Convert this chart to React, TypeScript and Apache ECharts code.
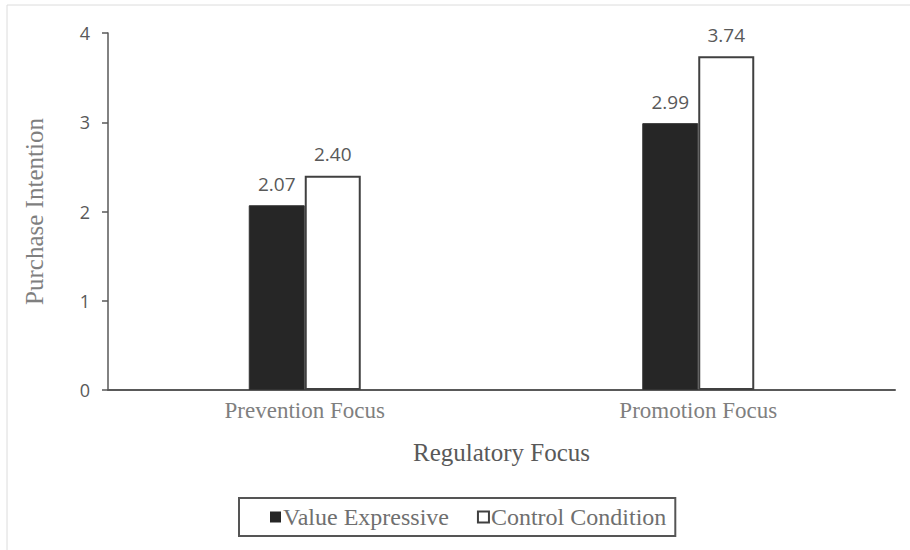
import React, { useEffect, useRef } from "react";
import * as echarts from "echarts";

const categories = ["Prevention Focus", "Promotion Focus"];
const valueExpressive = [2.07, 2.99];
const controlCondition = [2.4, 3.74];
const yTicks = [0, 1, 2, 3, 4];
const seriesNames = ["Value Expressive", "Control Condition"];
const xTitle = "Regulatory Focus";
const yTitle = "Purchase Intention";

export default function App() {
  const ref = useRef<HTMLDivElement>(null);
  useEffect(() => {
    if (!ref.current) return;
    const chart = echarts.init(ref.current, null, { renderer: "svg" });
    const serif = "Liberation Serif";
    const sans = "Open Sans";
    const labelStyle = {
      show: true,
      position: "top",
      distance: 12,
      color: "#595959",
      fontFamily: sans,
      fontSize: 19,
      formatter: (p: any) => Number(p.value).toFixed(2),
    };
    chart.setOption({
      animation: false,
      backgroundColor: "#ffffff",
      graphic: [
        {
          type: "rect",
          shape: { x: 7, y: 5, width: 1000, height: 1000 },
          style: { fill: "none", stroke: "#dcdcdc", lineWidth: 1 },
          silent: true,
        },
      ],
      grid: { left: 108, right: 15, top: 33, bottom: 160, containLabel: false },
      legend: {
        left: 239,
        top: 498,
        orient: "horizontal",
        padding: [7, 9, 7, 31],
        itemGap: 28,
        itemWidth: 11,
        itemHeight: 11,
        borderColor: "#555555",
        borderWidth: 2,
        textStyle: { fontFamily: serif, fontSize: 24, color: "#6f6f6f", padding: [0, 0, 0, -3] },
        data: [
          { name: seriesNames[0], icon: "rect", itemStyle: { color: "#262626", borderColor: "#262626", borderWidth: 0 } },
          { name: seriesNames[1], icon: "rect", itemStyle: { color: "#ffffff", borderColor: "#404040", borderWidth: 2 } },
        ],
      },
      xAxis: {
        type: "category",
        data: categories,
        name: xTitle,
        nameLocation: "middle",
        nameGap: 50,
        nameTextStyle: { fontFamily: serif, fontSize: 25, color: "#595959" },
        axisLine: { show: true, lineStyle: { color: "#595959", width: 2 } },
        axisTick: { show: false },
        axisLabel: { fontFamily: serif, fontSize: 23, color: "#7f7f7f", margin: 9 },
      },
      yAxis: {
        type: "value",
        min: 0,
        max: 4,
        interval: 1,
        name: yTitle,
        nameLocation: "middle",
        nameGap: 61,
        nameTextStyle: { fontFamily: serif, fontSize: 25, color: "#7f7f7f" },
        axisLine: { show: true, lineStyle: { color: "#595959", width: 1.5 } },
        axisTick: { show: true, inside: false, length: 6, lineStyle: { color: "#595959", width: 1.5 } },
        splitLine: { show: false },
        axisLabel: {
          fontFamily: sans,
          fontSize: 18,
          color: "#595959",
          margin: 18,
          formatter: (v: number) => (yTicks.includes(v) ? String(v) : ""),
        },
      },
      series: [
        {
          name: seriesNames[0],
          type: "bar",
          data: valueExpressive,
          barWidth: 56,
          barGap: "0%",
          itemStyle: { color: "#262626", borderColor: "#333333", borderWidth: 1 },
          label: labelStyle,
        },
        {
          name: seriesNames[1],
          type: "bar",
          data: controlCondition,
          barWidth: 56,
          barGap: "0%",
          itemStyle: { color: "#ffffff", borderColor: "#404040", borderWidth: 2 },
          label: labelStyle,
        },
      ],
    });
    return () => chart.dispose();
  }, []);
  return <div ref={ref} style={{ width: 910, height: 550, position: "absolute", left: 0, top: 0 }} />;
}
